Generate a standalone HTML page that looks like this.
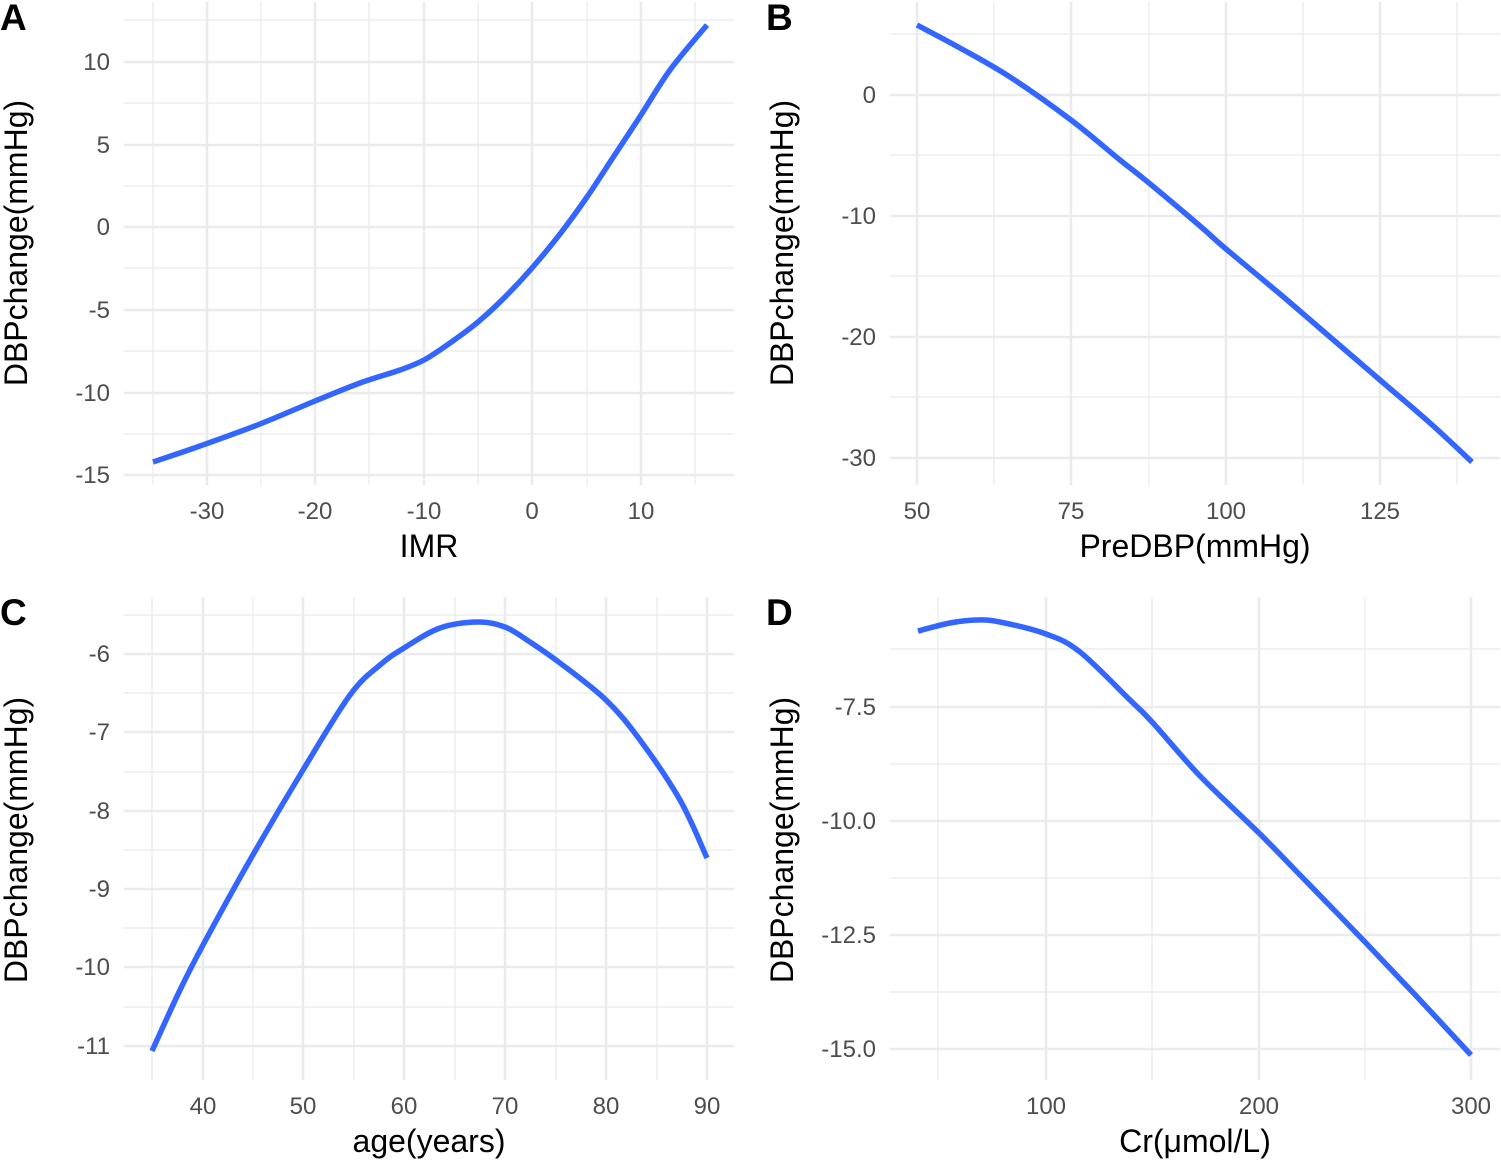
<!DOCTYPE html>
<html><head><style>body{margin:0;background:#fff}svg text{font-family:"Liberation Sans",Arial,sans-serif}</style></head><body>
<svg id="s" width="1501" height="1161" xmlns="http://www.w3.org/2000/svg">
<g stroke="#ebebeb" fill="none">
<g stroke-width="1.3">
<line x1="153" y1="2" x2="153" y2="485"/><line x1="261" y1="2" x2="261" y2="485"/><line x1="369" y1="2" x2="369" y2="485"/><line x1="478" y1="2" x2="478" y2="485"/><line x1="587" y1="2" x2="587" y2="485"/><line x1="695" y1="2" x2="695" y2="485"/>
<line x1="124" y1="20" x2="734" y2="20"/><line x1="124" y1="103" x2="734" y2="103"/><line x1="124" y1="186" x2="734" y2="186"/><line x1="124" y1="268" x2="734" y2="268"/><line x1="124" y1="351" x2="734" y2="351"/><line x1="124" y1="434" x2="734" y2="434"/>
</g>
<g stroke-width="2.6">
<line x1="207" y1="2" x2="207" y2="485"/><line x1="315" y1="2" x2="315" y2="485"/><line x1="424" y1="2" x2="424" y2="485"/><line x1="532" y1="2" x2="532" y2="485"/><line x1="641" y1="2" x2="641" y2="485"/>
<line x1="124" y1="62" x2="734" y2="62"/><line x1="124" y1="145" x2="734" y2="145"/><line x1="124" y1="227" x2="734" y2="227"/><line x1="124" y1="310" x2="734" y2="310"/><line x1="124" y1="393" x2="734" y2="393"/><line x1="124" y1="475" x2="734" y2="475"/>
</g>
<g stroke-width="1.3">
<line x1="994" y1="2" x2="994" y2="485"/><line x1="1149" y1="2" x2="1149" y2="485"/><line x1="1303" y1="2" x2="1303" y2="485"/><line x1="1457" y1="2" x2="1457" y2="485"/>
<line x1="890" y1="34" x2="1500" y2="34"/><line x1="890" y1="155" x2="1500" y2="155"/><line x1="890" y1="276" x2="1500" y2="276"/><line x1="890" y1="397" x2="1500" y2="397"/>
</g>
<g stroke-width="2.6">
<line x1="917" y1="2" x2="917" y2="485"/><line x1="1071" y1="2" x2="1071" y2="485"/><line x1="1226" y1="2" x2="1226" y2="485"/><line x1="1380" y1="2" x2="1380" y2="485"/>
<line x1="890" y1="95" x2="1500" y2="95"/><line x1="890" y1="216" x2="1500" y2="216"/><line x1="890" y1="337" x2="1500" y2="337"/><line x1="890" y1="458" x2="1500" y2="458"/>
</g>
<g stroke-width="1.3">
<line x1="152" y1="597" x2="152" y2="1080"/><line x1="253" y1="597" x2="253" y2="1080"/><line x1="354" y1="597" x2="354" y2="1080"/><line x1="455" y1="597" x2="455" y2="1080"/><line x1="556" y1="597" x2="556" y2="1080"/><line x1="657" y1="597" x2="657" y2="1080"/>
<line x1="124" y1="615" x2="734" y2="615"/><line x1="124" y1="693" x2="734" y2="693"/><line x1="124" y1="772" x2="734" y2="772"/><line x1="124" y1="850" x2="734" y2="850"/><line x1="124" y1="928" x2="734" y2="928"/><line x1="124" y1="1007" x2="734" y2="1007"/>
</g>
<g stroke-width="2.6">
<line x1="203" y1="597" x2="203" y2="1080"/><line x1="303" y1="597" x2="303" y2="1080"/><line x1="404" y1="597" x2="404" y2="1080"/><line x1="505" y1="597" x2="505" y2="1080"/><line x1="606" y1="597" x2="606" y2="1080"/><line x1="707" y1="597" x2="707" y2="1080"/>
<line x1="124" y1="654" x2="734" y2="654"/><line x1="124" y1="732" x2="734" y2="732"/><line x1="124" y1="811" x2="734" y2="811"/><line x1="124" y1="889" x2="734" y2="889"/><line x1="124" y1="967" x2="734" y2="967"/><line x1="124" y1="1046" x2="734" y2="1046"/>
</g>
<g stroke-width="1.3">
<line x1="938" y1="597" x2="938" y2="1080"/><line x1="1152" y1="597" x2="1152" y2="1080"/><line x1="1365" y1="597" x2="1365" y2="1080"/>
<line x1="890" y1="649" x2="1500" y2="649"/><line x1="890" y1="764" x2="1500" y2="764"/><line x1="890" y1="878" x2="1500" y2="878"/><line x1="890" y1="992" x2="1500" y2="992"/>
</g>
<g stroke-width="2.6">
<line x1="1046" y1="597" x2="1046" y2="1080"/><line x1="1259" y1="597" x2="1259" y2="1080"/><line x1="1471" y1="597" x2="1471" y2="1080"/>
<line x1="890" y1="707" x2="1500" y2="707"/><line x1="890" y1="821" x2="1500" y2="821"/><line x1="890" y1="935" x2="1500" y2="935"/><line x1="890" y1="1049" x2="1500" y2="1049"/>
</g>
</g>
<g id="curves" stroke="#3366ff" stroke-width="5.5" fill="none" stroke-linejoin="round">
<polyline points="153,462 200,446 260,424 315,401 360,383 400,370 424,360 450,343 478,322 505,297 532,268 560,234 587,197 614,156 641,115 670,70 707,25"/>
<polyline points="917,25 960,48 1010,77 1071,120 1120,160 1149,183 1200,226 1226,249 1280,294 1330,337 1380,380 1430,423 1472,462"/>
<polyline points="152,1051 180,990 203,945 250,860 303,770 350,695 380,665 404,648 440,628 478,622 505,627 530,642 560,663 606,700 640,740 680,800 707,858"/>
<polyline points="918,631 950,623 977,620 1000,622 1046,634 1080,652 1130,700 1153,723 1200,776 1259,833 1300,875 1365,942 1420,1000 1471,1055"/>
</g>
<g font-size="24" fill="#4d4d4d" text-anchor="end">
<text x="110" y="70">10</text><text x="110" y="153">5</text><text x="110" y="235">0</text><text x="110" y="318">-5</text><text x="110" y="401">-10</text><text x="110" y="483">-15</text>
<text x="876" y="103">0</text><text x="876" y="224">-10</text><text x="876" y="345">-20</text><text x="876" y="466">-30</text>
<text x="110" y="662">-6</text><text x="110" y="740">-7</text><text x="110" y="819">-8</text><text x="110" y="897">-9</text><text x="110" y="975">-10</text><text x="110" y="1054">-11</text>
<text x="876" y="715">-7.5</text><text x="876" y="829">-10.0</text><text x="876" y="943">-12.5</text><text x="876" y="1057">-15.0</text>
</g>
<g font-size="24" fill="#4d4d4d" text-anchor="middle">
<text x="207" y="519">-30</text><text x="315" y="519">-20</text><text x="424" y="519">-10</text><text x="532" y="519">0</text><text x="641" y="519">10</text>
<text x="917" y="519">50</text><text x="1071" y="519">75</text><text x="1226" y="519">100</text><text x="1380" y="519">125</text>
<text x="203" y="1114">40</text><text x="303" y="1114">50</text><text x="404" y="1114">60</text><text x="505" y="1114">70</text><text x="606" y="1114">80</text><text x="707" y="1114">90</text>
<text x="1046" y="1114">100</text><text x="1259" y="1114">200</text><text x="1471" y="1114">300</text>
</g>
<g font-size="32" fill="#000" text-anchor="middle">
<text x="429" y="557">IMR</text><text x="1195" y="557">PreDBP(mmHg)</text>
<text x="429" y="1152">age(years)</text><text x="1195" y="1152">Cr(μmol/L)</text>
<text transform="translate(27,243) rotate(-90)">DBPchange(mmHg)</text>
<text transform="translate(793,243) rotate(-90)">DBPchange(mmHg)</text>
<text transform="translate(27,840) rotate(-90)">DBPchange(mmHg)</text>
<text transform="translate(793,840) rotate(-90)">DBPchange(mmHg)</text>
</g>
<g font-size="37" font-weight="bold" fill="#000">
<text x="0" y="30">A</text><text x="766" y="30">B</text><text x="0" y="625">C</text><text x="766" y="625">D</text>
</g>
</svg>
<script>
document.querySelectorAll('#curves polyline').forEach(function(pl){
var p=pl.getAttribute('points').trim().split(/\s+/).map(function(s){return s.split(',').map(Number)});
var d='M'+p[0][0]+','+p[0][1];
for(var i=0;i<p.length-1;i++){var p0=p[i-1]||p[i],p1=p[i],p2=p[i+1],p3=p[i+2]||p2;
d+=' C'+(p1[0]+(p2[0]-p0[0])/6)+','+(p1[1]+(p2[1]-p0[1])/6)+' '+(p2[0]-(p3[0]-p1[0])/6)+','+(p2[1]-(p3[1]-p1[1])/6)+' '+p2[0]+','+p2[1];}
var path=document.createElementNS('http://www.w3.org/2000/svg','path');path.setAttribute('d',d);pl.parentNode.replaceChild(path,pl);});
</script>
</body></html>
